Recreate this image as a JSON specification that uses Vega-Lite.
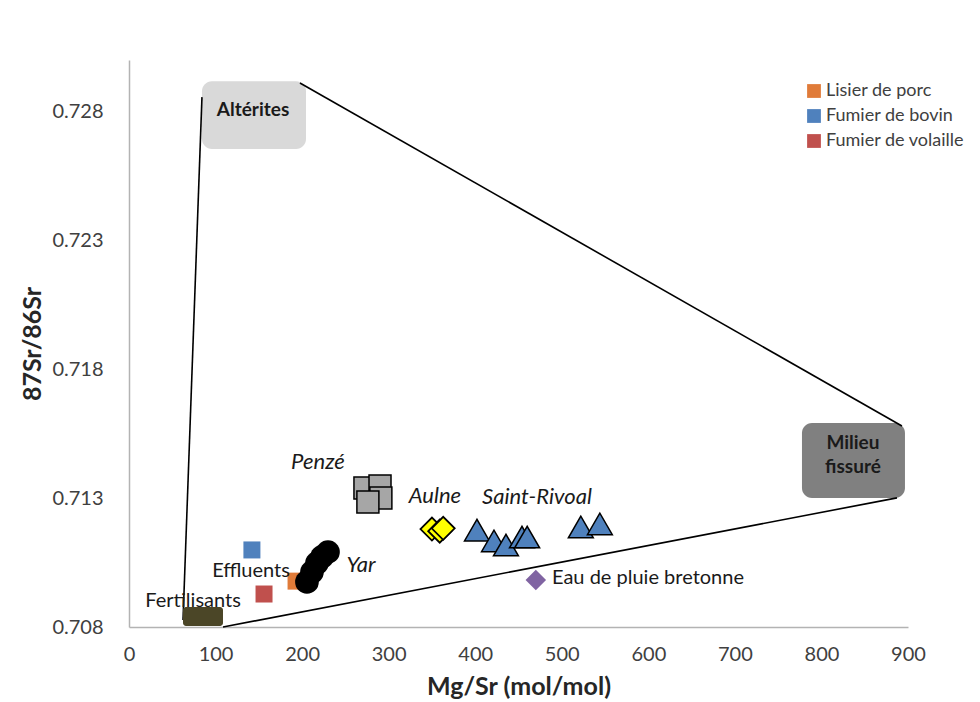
{
  "$schema": "https://vega.github.io/schema/vega-lite/v6.json",
  "width": 779,
  "height": 567,
  "autosize": {"type": "none"},
  "padding": {"left": 129, "top": 60, "right": 72, "bottom": 75},
  "background": "white",
  "config": {"view": {"stroke": null}, "font": "Lato"},
  "datasets": {
    "env": [
      {"x": 84.3, "y": 0.72856, "x2": 62.4, "y2": 0.70827},
      {"x": 197.5, "y": 0.72911, "x2": 893, "y2": 0.7158},
      {"x": 108.6, "y": 0.708, "x2": 887.3, "y2": 0.71301}
    ],
    "boxes": [
      {"box": "Altérites", "x": 84.3, "x2": 204.5, "y": 0.72918, "y2": 0.72655},
      {"box": "Milieu fissuré", "x": 777.5, "x2": 896.5, "y": 0.71592, "y2": 0.71301},
      {"box": "Fertilisants", "x": 62.4, "x2": 108.6, "y": 0.70878, "y2": 0.70804}
    ],
    "pts": [
      {"group": "Penzé", "x": 272.6, "y": 0.71339},
      {"group": "Penzé", "x": 290, "y": 0.71347},
      {"group": "Penzé", "x": 291, "y": 0.71301},
      {"group": "Penzé", "x": 276, "y": 0.71285},
      {"group": "Aulne", "x": 350, "y": 0.7118},
      {"group": "Aulne", "x": 359, "y": 0.71172},
      {"group": "Aulne", "x": 363, "y": 0.71183},
      {"group": "Saint-Rivoal", "x": 402, "y": 0.71176},
      {"group": "Saint-Rivoal", "x": 421.7, "y": 0.71134},
      {"group": "Saint-Rivoal", "x": 435.5, "y": 0.71118},
      {"group": "Saint-Rivoal", "x": 454, "y": 0.71149},
      {"group": "Saint-Rivoal", "x": 460, "y": 0.71149},
      {"group": "Saint-Rivoal", "x": 522, "y": 0.71188},
      {"group": "Saint-Rivoal", "x": 544, "y": 0.712},
      {"group": "Lisier de porc", "x": 193, "y": 0.70978},
      {"group": "Fumier de bovin", "x": 142, "y": 0.71099},
      {"group": "Fumier de volaille", "x": 156, "y": 0.70928},
      {"group": "Yar", "x": 205.6, "y": 0.70975},
      {"group": "Yar", "x": 211.4, "y": 0.71013},
      {"group": "Yar", "x": 217.2, "y": 0.71048},
      {"group": "Yar", "x": 223, "y": 0.71072},
      {"group": "Yar", "x": 229.9, "y": 0.71091},
      {"group": "Eau de pluie bretonne", "x": 470, "y": 0.70982}
    ],
    "labels": [
      {"style": "italic", "text": "Penzé", "x": 218.3, "y": 0.7144},
      {"style": "italic", "text": "Aulne", "x": 353.5, "y": 0.71308},
      {"style": "italic", "text": "Saint-Rivoal", "x": 471.4, "y": 0.71304},
      {"style": "italic", "text": "Yar", "x": 268, "y": 0.7104},
      {"style": "regular", "text": "Effluents", "x": 141, "y": 0.71017},
      {"style": "regular", "text": "Fertilisants", "x": 74, "y": 0.70901},
      {"style": "left", "text": "Eau de pluie bretonne", "x": 488.7, "y": 0.7099},
      {"style": "bold", "text": "Altérites", "x": 143.3, "y": 0.72806},
      {"style": "bold", "text": "Milieu", "x": 836.4, "y": 0.71514},
      {"style": "bold", "text": "fissuré", "x": 836.4, "y": 0.71421}
    ]
  },
  "encoding": {
    "x": {
      "field": "x", "type": "quantitative",
      "scale": {"domain": [0, 900], "nice": false, "zero": false},
      "axis": {
        "title": "Mg/Sr (mol/mol)", "values": [0, 100, 200, 300, 400, 500, 600, 700, 800, 900],
        "grid": false, "ticks": false, "domainColor": "#b3b3b3", "domainWidth": 1.5, "labelFlush": false,
        "labelFontSize": 20, "labelColor": "#404040", "labelPadding": 17, "labelFont": "Lato",
        "titleFontSize": 25, "titleFontWeight": "bold", "titleColor": "#262626", "titlePadding": 10, "titleFont": "Lato"
      }
    },
    "y": {
      "field": "y", "type": "quantitative",
      "scale": {"domain": [0.708, 0.73], "nice": false, "zero": false},
      "axis": {
        "title": "87Sr/86Sr", "values": [0.708, 0.713, 0.718, 0.723, 0.728], "format": ".3f",
        "grid": false, "ticks": false, "domainColor": "#b3b3b3", "domainWidth": 1.5, "labelFlush": false,
        "labelFontSize": 20, "labelColor": "#404040", "labelPadding": 26, "labelFont": "Lato",
        "titleFontSize": 25, "titleFontWeight": "bold", "titleColor": "#262626", "titlePadding": 6, "titleFont": "Lato"
      }
    }
  },
  "layer": [
    {
      "data": {"name": "boxes"},
      "transform": [{"filter": "datum.box !== 'Fertilisants'"}],
      "mark": {"type": "rect", "cornerRadius": 10},
      "encoding": {
        "x2": {"field": "x2"}, "y2": {"field": "y2"},
        "fill": {"field": "box", "type": "nominal", "scale": {"domain": ["Altérites", "Milieu fissuré"], "range": ["#d9d9d9", "#808080"]}, "legend": null}
      }
    },
    {
      "data": {"name": "env"},
      "mark": {"type": "rule", "color": "#000000", "strokeWidth": 1.6},
      "encoding": {"x2": {"field": "x2"}, "y2": {"field": "y2"}}
    },
    {
      "data": {"name": "boxes"},
      "transform": [{"filter": "datum.box === 'Fertilisants'"}],
      "mark": {"type": "rect", "cornerRadius": 3, "color": "#4b4627"},
      "encoding": {"x2": {"field": "x2"}, "y2": {"field": "y2"}}
    },
    {
      "data": {"name": "pts"},
      "transform": [{"filter": "datum.group === 'Penzé'"}],
      "mark": {"type": "point", "shape": "square", "filled": true, "fill": "#a6a6a6", "stroke": "#000000", "strokeWidth": 1.5, "size": 484, "opacity": 1}
    },
    {
      "data": {"name": "pts"},
      "transform": [{"filter": "datum.group === 'Aulne'"}],
      "mark": {"type": "point", "shape": "diamond", "filled": true, "fill": "#ffff00", "stroke": "#000000", "strokeWidth": 1.8, "size": 529, "opacity": 1}
    },
    {
      "data": {"name": "pts"},
      "transform": [{"filter": "datum.group === 'Saint-Rivoal'"}],
      "mark": {"type": "point", "shape": "triangle-up", "filled": true, "fill": "#4f81bd", "stroke": "#000000", "strokeWidth": 1.5, "size": 620, "opacity": 1}
    },
    {
      "data": {"name": "pts"},
      "transform": [{"filter": "indexof(['Lisier de porc','Fumier de bovin','Fumier de volaille'], datum.group) >= 0"}],
      "mark": {"type": "point", "shape": "square", "filled": true, "size": 289, "opacity": 1},
      "encoding": {
        "color": {
          "field": "group", "type": "nominal",
          "scale": {"domain": ["Lisier de porc", "Fumier de bovin", "Fumier de volaille"], "range": ["#e07b39", "#4f81bd", "#c0504d"]},
          "legend": {
            "orient": "none", "legendX": 676, "legendY": 22, "title": null,
            "symbolType": "square", "symbolSize": 190, "symbolStrokeWidth": 0, "symbolOpacity": 1,
            "labelFontSize": 18, "labelFont": "Lato", "labelColor": "#404040", "rowPadding": 7, "labelOffset": 3, "padding": 0
          }
        }
      }
    },
    {
      "data": {"name": "pts"},
      "transform": [{"filter": "datum.group === 'Yar'"}],
      "mark": {"type": "point", "shape": "circle", "filled": true, "fill": "#000000", "size": 560, "opacity": 1}
    },
    {
      "data": {"name": "pts"},
      "transform": [{"filter": "datum.group === 'Eau de pluie bretonne'"}],
      "mark": {"type": "point", "shape": "diamond", "filled": true, "fill": "#8064a2", "size": 420, "opacity": 1}
    },
    {
      "data": {"name": "labels"},
      "transform": [{"filter": "datum.style === 'italic'"}],
      "mark": {"type": "text", "font": "Lato", "fontStyle": "italic", "fontSize": 22, "color": "#1a1a1a", "align": "center", "baseline": "middle"},
      "encoding": {"text": {"field": "text"}}
    },
    {
      "data": {"name": "labels"},
      "transform": [{"filter": "datum.style === 'regular'"}],
      "mark": {"type": "text", "font": "Lato", "fontSize": 20, "color": "#1a1a1a", "align": "center", "baseline": "middle"},
      "encoding": {"text": {"field": "text"}}
    },
    {
      "data": {"name": "labels"},
      "transform": [{"filter": "datum.style === 'left'"}],
      "mark": {"type": "text", "font": "Lato", "fontSize": 20, "color": "#1a1a1a", "align": "left", "baseline": "middle"},
      "encoding": {"text": {"field": "text"}}
    },
    {
      "data": {"name": "labels"},
      "transform": [{"filter": "datum.style === 'bold'"}],
      "mark": {"type": "text", "font": "Lato", "fontSize": 19, "fontWeight": "bold", "color": "#1a1a1a", "align": "center", "baseline": "middle"},
      "encoding": {"text": {"field": "text"}}
    }
  ]
}
